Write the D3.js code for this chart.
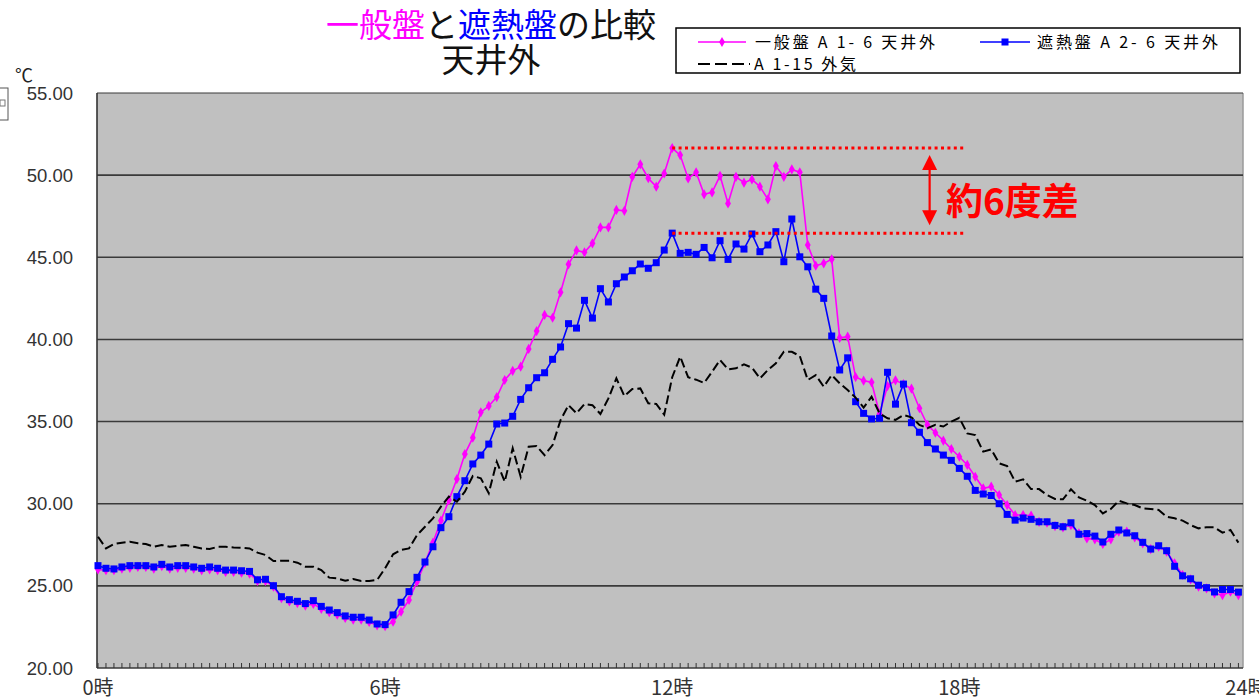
<!DOCTYPE html>
<html><head><meta charset="utf-8">
<script src="https://cdn.jsdelivr.net/npm/d3@7"></script>
<style>
body{margin:0;background:#fff;}
svg{display:block;font-family:"Noto Sans CJK JP","Noto Sans",sans-serif;}
</style>
</head><body>
<svg id="c" width="1259" height="700"></svg>
<script>
// 10-minute readings, 0:00 .. 23:50 (144 points)
const ippan = [26.0,25.95,25.95,26.05,26.1,26.15,26.15,26.05,26.2,26.05,26.1,26.1,26.05,25.95,26.0,25.95,25.85,25.85,25.8,25.75,
25.3,25.3,24.95,24.25,24.05,23.95,23.8,23.9,23.6,23.4,23.25,23.05,22.95,22.95,22.8,22.6,22.55,22.82,23.43,24.14,
25.25,26.4,27.63,28.97,30.22,31.5,33.02,34.02,35.56,35.95,36.49,37.53,38.09,38.34,39.42,40.51,41.49,41.32,42.87,44.57,
45.42,45.3,45.85,46.82,46.82,47.88,47.83,49.9,50.66,49.81,49.3,50.1,51.65,51.22,49.8,50.17,48.83,48.95,49.96,48.28,
49.9,49.54,49.74,49.3,48.53,50.55,49.9,50.35,50.17,45.75,44.49,44.63,44.88,40.1,40.17,37.71,37.49,37.39,35.48,37.16,
37.51,37.28,37.0,35.81,34.8,34.32,33.84,33.33,32.86,32.36,31.64,30.94,31.04,30.53,29.92,29.31,29.31,29.27,28.9,28.84,
28.64,28.56,28.7,28.2,27.89,27.83,27.55,27.83,28.3,28.3,27.95,27.59,27.24,27.38,27.08,26.37,25.66,25.4,24.95,24.85,
24.54,24.44,24.64,24.44];
const shanetsu = [26.23,26.07,26.03,26.15,26.23,26.23,26.23,26.15,26.31,26.15,26.23,26.23,26.15,26.07,26.15,26.07,25.96,25.96,25.92,25.88,
25.37,25.4,25.01,24.34,24.16,24.06,23.92,24.1,23.75,23.53,23.37,23.17,23.09,23.09,22.92,22.68,22.64,23.23,24.0,24.65,
25.52,26.45,27.38,28.54,29.21,30.43,31.4,32.42,32.96,33.63,34.85,34.91,35.32,36.35,37.06,37.67,37.97,38.79,39.54,40.96,
40.69,42.38,41.3,43.09,42.28,43.39,43.8,44.18,44.59,44.33,44.67,45.44,46.47,45.24,45.3,45.18,45.6,44.97,46.01,44.87,
45.81,45.5,46.42,45.34,45.75,46.56,44.73,47.33,45.03,44.42,43.06,42.5,40.21,38.14,38.88,36.21,35.5,35.16,35.2,38.0,
36.06,37.28,34.93,34.35,33.72,33.33,32.96,32.64,32.15,31.67,30.81,30.59,30.5,30.0,29.35,29.0,29.13,29.05,28.9,28.9,
28.68,28.6,28.84,28.14,28.18,28.03,27.67,28.14,28.4,28.22,28.05,27.65,27.24,27.44,27.14,26.19,25.61,25.43,25.04,24.89,
24.63,24.78,24.78,24.62];
const gaiki = [27.99,27.28,27.55,27.63,27.69,27.59,27.55,27.38,27.49,27.38,27.43,27.49,27.38,27.28,27.24,27.38,27.38,27.34,27.32,27.28,
27.02,26.88,26.51,26.53,26.53,26.41,26.17,26.17,25.96,25.5,25.46,25.31,25.42,25.3,25.3,25.36,26.07,26.92,27.18,27.28,
28.09,28.6,29.11,29.82,30.43,30.12,30.73,31.69,31.55,30.64,32.56,31.34,33.37,31.64,33.47,33.51,32.96,33.57,35.09,36.0,
35.5,36.07,36.0,35.46,36.41,37.63,36.55,36.98,37.02,36.11,36.07,35.42,37.7,38.95,37.7,37.55,37.35,38.03,38.75,38.18,
38.24,38.48,38.28,37.63,38.14,38.55,39.25,39.25,38.99,37.53,37.83,37.12,37.83,37.33,36.92,36.46,35.85,36.51,35.5,35.2,
35.1,35.4,35.26,34.8,34.6,34.8,34.7,35.0,35.23,34.28,34.18,33.17,33.31,32.46,32.29,31.34,31.48,30.89,30.89,30.53,
30.29,30.27,30.88,30.39,30.18,29.92,29.41,29.68,30.18,30.02,29.92,29.72,29.68,29.62,29.21,29.11,28.97,28.7,28.5,28.56,
28.56,28.24,28.4,27.63];
const yTicks = [20,25,30,35,40,45,50,55];
const xTickHours = [0,6,12,18,24];
const xTickLabels = ["0時","6時","12時","18時","24時"];
const seriesNames = ["一般盤 A 1- 6 天井外","遮熱盤 A 2- 6 天井外","A 1-15 外気"];
const noteText = "約6度差";

const svg = d3.select("#c");
const L = 97, R = 1243, T = 93, B = 668;
const x = d3.scaleLinear().domain([0, 24]).range([L + 1, L + 1 + 144 * 7.975]);
const y = d3.scaleLinear().domain([20, 55]).range([B, T]);
const hr = i => i / 6;

// plot area
svg.append("rect").attr("x", L).attr("y", T).attr("width", R - L).attr("height", B - T).attr("fill", "#c0c0c0");
svg.append("line").attr("x1", R).attr("x2", R).attr("y1", T).attr("y2", B).attr("stroke", "#9a9a9a").attr("stroke-width", 1.5);
// gridlines
svg.append("g").selectAll("line").data(yTicks).join("line")
  .attr("x1", L).attr("x2", R).attr("y1", d => y(d)).attr("y2", d => y(d))
  .attr("stroke", "#3a3a3a").attr("stroke-width", d => d === 55 ? 1.2 : 1.6);
svg.append("line").attr("x1", L).attr("x2", L).attr("y1", T).attr("y2", B).attr("stroke", "#333").attr("stroke-width", 1.6);
// y labels
svg.append("g").selectAll("text").data(yTicks).join("text")
  .attr("x", 73).attr("y", d => y(d) + 6.5).attr("text-anchor", "end")
  .attr("font-size", 18.5).attr("fill", "#333").style("font-family", "'Liberation Sans',Arial,sans-serif")
  .text(d => d.toFixed(2));
svg.append("text").attr("x", 15).attr("y", 82).attr("font-size", 18).attr("fill", "#222").text("℃");
// small box at left edge
svg.append("rect").attr("x", -3).attr("y", 88).attr("width", 11).attr("height", 32).attr("fill", "none").attr("stroke", "#555");
svg.append("rect").attr("x", 0).attr("y", 100).attr("width", 5).attr("height", 6).attr("fill", "none").attr("stroke", "#777");

// minor ticks every 10 min
const minor = d3.range(145).map(hr).filter(h => x(h) <= R);
svg.append("g").selectAll("line").data(minor).join("line")
  .attr("x1", d => x(d)).attr("x2", d => x(d)).attr("y1", B).attr("y2", B - 5)
  .attr("stroke", "#333").attr("stroke-width", 1);
// x labels
svg.append("g").selectAll("text").data(xTickHours).join("text")
  .attr("x", d => x(d)).attr("y", 695).attr("text-anchor", "middle")
  .attr("font-size", 20).attr("fill", "#333").text((d, i) => xTickLabels[i]);

const line = d3.line().x((d, i) => x(hr(i))).y(d => y(d));
// pink
svg.append("path").datum(ippan).attr("d", line).attr("fill", "none").attr("stroke", "#ff00ff").attr("stroke-width", 1.6);
svg.append("g").selectAll("path").data(ippan).join("path")
  .attr("d", d3.symbol(d3.symbolDiamond, 30)())
  .attr("transform", (d, i) => `translate(${x(hr(i))},${y(d)})`).attr("fill", "#ff00ff");
// blue
svg.append("path").datum(shanetsu).attr("d", line).attr("fill", "none").attr("stroke", "#0000ff").attr("stroke-width", 1.6);
svg.append("g").selectAll("rect").data(shanetsu).join("rect")
  .attr("x", (d, i) => x(hr(i)) - 3.5).attr("y", d => y(d) - 3.5).attr("width", 7).attr("height", 7).attr("fill", "#0000ff");
// dashed
svg.append("path").datum(gaiki).attr("d", line).attr("fill", "none").attr("stroke", "#000").attr("stroke-width", 2)
  .attr("stroke-dasharray", "9,4");

// annotation
const pk = d3.maxIndex(ippan);
const yTop = y(ippan[pk]), yBot = y(shanetsu[pk]);
const xEnd = x(18.1);
[yTop, yBot].forEach(yy => {
  svg.append("line").attr("x1", x(hr(pk))).attr("x2", xEnd).attr("y1", yy).attr("y2", yy)
    .attr("stroke", "#ff0000").attr("stroke-width", 3).attr("stroke-dasharray", "3,3.4");
});
const ax = x(17.38);
svg.append("line").attr("x1", ax).attr("x2", ax).attr("y1", yTop + 14).attr("y2", yBot - 14)
  .attr("stroke", "#ff0000").attr("stroke-width", 2.2);
svg.append("path").attr("d", `M${ax},${yTop + 7} L${ax - 7.5},${yTop + 22} L${ax + 7.5},${yTop + 22} Z`).attr("fill", "#ff0000");
svg.append("path").attr("d", `M${ax},${yBot - 8} L${ax - 7.5},${yBot - 23} L${ax + 7.5},${yBot - 23} Z`).attr("fill", "#ff0000");
svg.append("text").attr("x", 946).attr("y", 215).attr("font-size", 37).attr("font-weight", "bold")
  .attr("fill", "#ff0000").text(noteText);

// title
const t1 = svg.append("text").attr("x", 491).attr("y", 37).attr("text-anchor", "middle").attr("font-size", 33);
t1.append("tspan").attr("fill", "#ff00ff").text("一般盤");
t1.append("tspan").attr("fill", "#111").text("と");
t1.append("tspan").attr("fill", "#0000ff").text("遮熱盤");
t1.append("tspan").attr("fill", "#111").text("の比較");
svg.append("text").attr("x", 491).attr("y", 72).attr("text-anchor", "middle").attr("font-size", 33).attr("fill", "#111").text("天井外");

// legend
const lg = svg.append("g");
lg.append("rect").attr("x", 676).attr("y", 28).attr("width", 564).attr("height", 45).attr("fill", "#fff").attr("stroke", "#000").attr("stroke-width", 1.5);
const r1 = 42, r2 = 64;
lg.append("line").attr("x1", 698).attr("x2", 746).attr("y1", r1).attr("y2", r1).attr("stroke", "#ff00ff").attr("stroke-width", 1.6);
lg.append("path").attr("d", d3.symbol(d3.symbolDiamond, 30)()).attr("transform", `translate(722,${r1})`).attr("fill", "#ff00ff");
lg.append("text").attr("x", 755).attr("y", r1 + 6).attr("font-size", 16).attr("fill", "#000")
  .attr("textLength", 180).attr("lengthAdjust", "spacing").text(seriesNames[0]);
lg.append("line").attr("x1", 980).attr("x2", 1030).attr("y1", r1).attr("y2", r1).attr("stroke", "#0000ff").attr("stroke-width", 1.6);
lg.append("rect").attr("x", 1001.5).attr("y", r1 - 3.5).attr("width", 7).attr("height", 7).attr("fill", "#0000ff");
lg.append("text").attr("x", 1037).attr("y", r1 + 6).attr("font-size", 16).attr("fill", "#000")
  .attr("textLength", 181).attr("lengthAdjust", "spacing").text(seriesNames[1]);
lg.append("line").attr("x1", 698).attr("x2", 750).attr("y1", r2).attr("y2", r2).attr("stroke", "#000").attr("stroke-width", 2).attr("stroke-dasharray", "12,5");
lg.append("text").attr("x", 754).attr("y", r2 + 6).attr("font-size", 16).attr("fill", "#000")
  .attr("textLength", 102).attr("lengthAdjust", "spacing").text(seriesNames[2]);
</script>
</body></html>
